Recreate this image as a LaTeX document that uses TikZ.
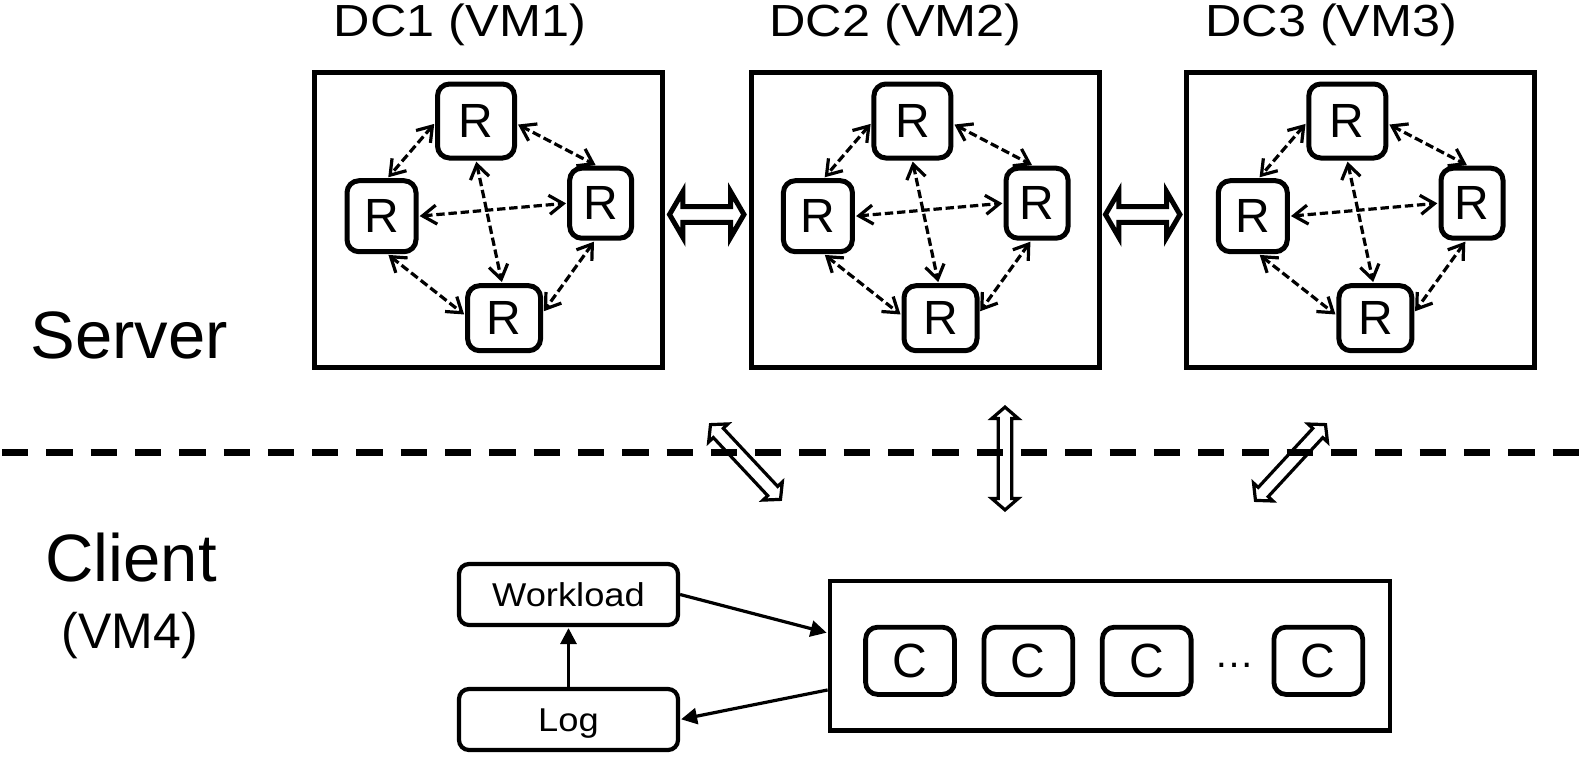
\documentclass[tikz,border=0pt]{standalone}
\usepackage{fontspec}
\setmainfont{Liberation Sans}
\newfontfamily\dcfont[FakeStretch=1.12]{Liberation Sans}
\newfontfamily\wlfont[FakeStretch=1.1]{Liberation Sans}
\usetikzlibrary{arrows.meta,calc}

\tikzset{
  dcbox/.style={draw, line width=2.5pt, minimum width=174pt, minimum height=147.5pt, inner sep=0pt},
  rnode/.style={draw, line width=2.5pt, rounded corners=6pt, inner sep=0pt,
    font=\fontsize{24}{28}\selectfont},
  rlink/.style={line width=1.6pt, dash pattern=on 4.2pt off 1.9pt,
    {Straight Barb[length=7pt,width=9.5pt]}-{Straight Barb[length=7pt,width=9.5pt]},
    shorten >=0.6pt, shorten <=0.6pt},
  dclabel/.style={inner sep=0pt, font=\dcfont\fontsize{22.5}{26}\selectfont},
  bigtext/.style={inner sep=0pt, font=\fontsize{33.5}{40}\selectfont},
  vmtext/.style={inner sep=0pt, font=\fontsize{25}{30}\selectfont},
  wbox/.style={draw, line width=2.1pt, rounded corners=5pt, minimum width=109.5pt,
    minimum height=30.5pt, inner sep=0pt, text height=12pt, text depth=0pt,
    font=\wlfont\fontsize{16.5}{20}\selectfont},
  cbox/.style={draw, line width=2.4pt, minimum width=280pt, minimum height=74.75pt, inner sep=0pt},
  cnode/.style={draw, line width=2.4pt, rounded corners=6pt, minimum width=44.4pt,
    minimum height=33.6pt, inner sep=0pt, font=\fontsize{24}{28}\selectfont},
  dotstext/.style={inner sep=0pt, font=\fontsize{20}{24}\selectfont},
  carrow/.style={line width=1.6pt, -{Triangle[length=8pt,width=8pt]}, shorten >=0.5pt},
  sepline/.style={line width=3.4pt, dash pattern=on 13.15pt off 9pt},
  hollowline/.style={draw=black, fill=white, line join=miter},
  pics/hollowarr/.style args={#1/#2/#3/#4}{code={%
    \draw[hollowline] (-#1pt,0pt) -- (-#1pt+#4pt,#3pt) -- (-#1pt+#4pt,#2pt)
      -- (#1pt-#4pt,#2pt) -- (#1pt-#4pt,#3pt) -- (#1pt,0pt)
      -- (#1pt-#4pt,-#3pt) -- (#1pt-#4pt,-#2pt) -- (-#1pt+#4pt,-#2pt)
      -- (-#1pt+#4pt,-#3pt) -- cycle;
  }}
}

% #1 prefix, #2 box centre x, #3 label centre x, #4 label
\newcommand\dcblock[4]{%
  \node[dcbox] (#1) at (#2,220) {};
  \node[rnode, minimum width=38.5pt, minimum height=37pt] (#1t) at (#2-12.7,121) {R};
  \node[rnode, minimum width=34.5pt, minimum height=35.5pt] (#1l) at (#2-107.2,216.2) {R};
  \node[rnode, minimum width=31pt, minimum height=35pt] (#1r) at (#2+112,203.2) {R};
  \node[rnode, minimum width=36.5pt, minimum height=32.5pt] (#1b) at (#2+15.4,318.2) {R};
  \draw[rlink] ([yshift=-1pt]#1t.west) -- ([xshift=3pt]#1l.north);
  \draw[rlink] ([yshift=-1.5pt]#1t.east) -- ([xshift=-2pt]#1r.north);
  \draw[rlink] (#1l.east) -- (#1r.west);
  \draw[rlink] (#1t.south) -- ([xshift=-1pt]#1b.north);
  \draw[rlink] ([xshift=3pt]#1l.south) -- ([yshift=1.5pt]#1b.west);
  \draw[rlink] ([xshift=-3pt]#1r.south) -- ([yshift=3pt]#1b.east);
  \node[dclabel, anchor=base] (#1lab) at (#3,36.7) {#4};
}

\begin{document}
\begin{tikzpicture}[x=0.5pt,y=-0.5pt]
  \fill[white] (0,0) rectangle (1581,756);
  \useasboundingbox (0,0) rectangle (1581,756);

  \dcblock{dca}{488.7}{460}{DC1 (VM1)}
  \dcblock{dcb}{925.1}{895.6}{DC2 (VM2)}
  \dcblock{dcc}{1360}{1331.3}{DC3 (VM3)}

  % hollow arrows between data centres
  \coordinate (h1a) at (666.5,214.5); \coordinate (h1b) at (747,214.5);
  \coordinate (h2a) at (1102.7,214.5); \coordinate (h2b) at (1182.7,214.5);
  \path (h1a) -- (h1b) pic[pos=.5, sloped, line width=2.5pt] {hollowarr=18.6/3.9/11.5/6.7};
  \path (h2a) -- (h2b) pic[pos=.5, sloped, line width=2.5pt] {hollowarr=18.6/3.9/11.5/6.7};

  % hollow arrows across the separator
  \coordinate (v1a) at (709,423); \coordinate (v1b) at (782,501);
  \coordinate (v2a) at (1005,405); \coordinate (v2b) at (1005,512);
  \coordinate (v3a) at (1327,423); \coordinate (v3b) at (1254,502);
  \path (v1a) -- (v1b) pic[pos=.5, sloped, line width=1.6pt] {hollowarr=25.6/3.4/6.6/5.7};
  \path (v2a) -- (v2b) pic[pos=.5, sloped, line width=1.6pt] {hollowarr=25.7/3.4/6.6/5.7};
  \path (v3a) -- (v3b) pic[pos=.5, sloped, line width=1.6pt] {hollowarr=25.8/3.4/6.6/5.7};

  % separator
  \coordinate (sl) at (2,452.3); \coordinate (sr) at (1581,452.3);
  \draw[sepline] (sl) -- (sr);

  % side labels
  \node[bigtext, anchor=base west] (srv) at (30,358.3) {Server};
  \node[bigtext, anchor=base west] (cli) at (45,581.7) {Client};
  \node[vmtext, anchor=base] (vm4) at (130,648) {(VM4)};

  % client side
  \node[wbox] (wl) at (568.5,594.5) {Workload};
  \node[wbox] (log) at (568.5,719.5) {Log};
  \node[cbox] (cl) at (1110,655.75) {};
  \node[cnode] (c1) at (910,660.8) {C};
  \node[cnode] (c2) at (1028.3,660.8) {C};
  \node[cnode] (c3) at (1146.7,660.8) {C};
  \node[cnode] (c4) at (1318.3,660.8) {C};
  \node[dotstext, anchor=base] (dots) at (1234,667) {…};

  \draw[carrow] (wl.east) -- ([yshift=11.4pt]cl.west);
  \draw[carrow] ([yshift=-17.1pt]cl.west) -- (log.east);
  \draw[carrow] (log.north) -- (wl.south);
\end{tikzpicture}
\end{document}
